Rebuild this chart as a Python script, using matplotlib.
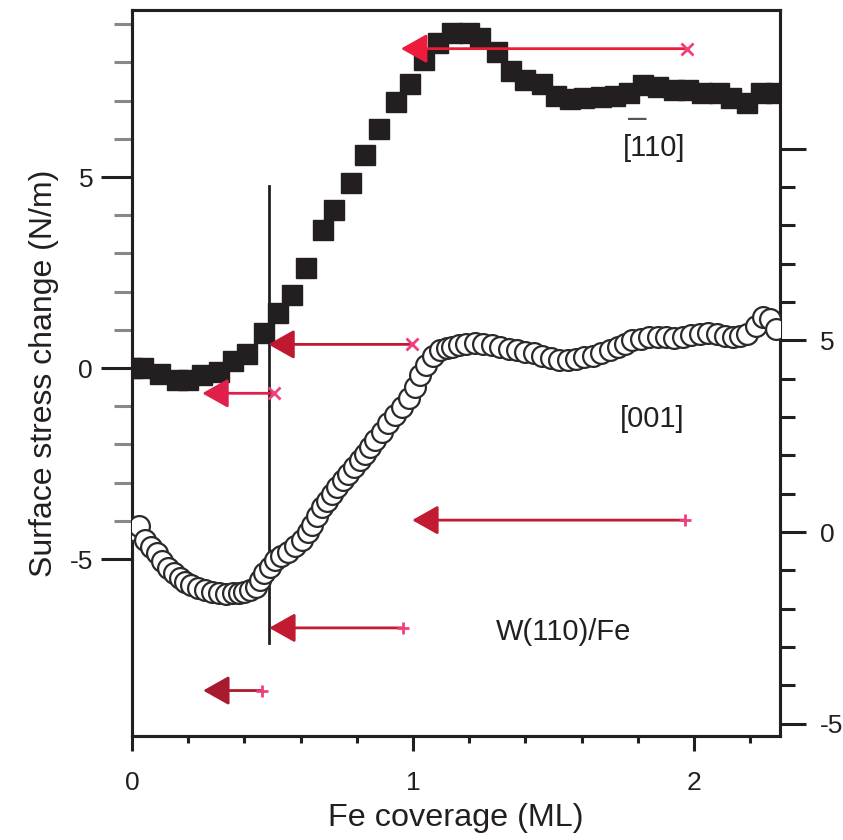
import matplotlib
matplotlib.use("Agg")
import matplotlib.pyplot as plt
from matplotlib.ticker import FixedLocator

plt.rcParams['font.family'] = ['Liberation Sans', 'DejaVu Sans']
plt.rcParams['axes.unicode_minus'] = False

# [110] filled squares, left axis (N/m)
sq_x = [0.0, 0.04, 0.10, 0.16, 0.20, 0.25, 0.31, 0.36, 0.41, 0.47, 0.52, 0.57,
        0.62, 0.68, 0.72, 0.78, 0.83, 0.88, 0.94, 0.99, 1.04, 1.09, 1.14, 1.20,
        1.24, 1.30, 1.35, 1.40, 1.46, 1.51, 1.56, 1.61, 1.67, 1.72, 1.77, 1.82,
        1.87, 1.93, 1.98, 2.03, 2.09, 2.13, 2.19, 2.24, 2.29]
sq_y = [0.0, 0.0, -0.16, -0.32, -0.32, -0.19, -0.09, 0.19, 0.38, 0.92, 1.44, 1.90,
        2.61, 3.62, 4.15, 4.85, 5.58, 6.26, 6.96, 7.43, 8.07, 8.52, 8.78, 8.78,
        8.64, 8.28, 7.77, 7.54, 7.43, 7.11, 7.04, 7.07, 7.10, 7.11, 7.20, 7.42,
        7.35, 7.27, 7.27, 7.20, 7.20, 7.07, 6.95, 7.20, 7.20]

# [001] open circles, right axis (N/m)
ci_x = [0.00, 0.025, 0.046, 0.068, 0.089, 0.108, 0.128, 0.15, 0.17, 0.19, 0.21,
        0.235, 0.26, 0.285, 0.31, 0.335, 0.36, 0.38, 0.40, 0.42, 0.44, 0.455,
        0.47, 0.49, 0.51, 0.53, 0.555, 0.58, 0.605, 0.625, 0.64, 0.66, 0.676,
        0.693, 0.71, 0.73, 0.75, 0.77, 0.79, 0.81, 0.83, 0.848, 0.865, 0.888,
        0.91, 0.935, 0.96, 0.985, 1.007, 1.025, 1.045, 1.07, 1.096, 1.12, 1.14,
        1.165, 1.19, 1.22, 1.25, 1.28, 1.31, 1.34, 1.37, 1.40, 1.43, 1.46, 1.49,
        1.52, 1.55, 1.58, 1.61, 1.64, 1.67, 1.70, 1.73, 1.755, 1.78, 1.81, 1.84,
        1.87, 1.90, 1.93, 1.96, 1.99, 2.02, 2.05, 2.08, 2.11, 2.14, 2.165, 2.19,
        2.22, 2.245, 2.27, 2.29]
ci_y = [0.05, 0.15, -0.21, -0.40, -0.55, -0.75, -0.94, -1.08, -1.20, -1.30, -1.38,
        -1.45, -1.51, -1.56, -1.60, -1.61, -1.60, -1.58, -1.56, -1.50, -1.43, -1.25,
        -1.07, -0.90, -0.73, -0.62, -0.52, -0.37, -0.21, 0.0, 0.18, 0.42, 0.65,
        0.82, 1.00, 1.18, 1.35, 1.52, 1.70, 1.88, 2.05, 2.22, 2.40, 2.62,
        2.84, 3.05, 3.26, 3.50, 3.78, 4.10, 4.35, 4.60, 4.74, 4.80, 4.82,
        4.88, 4.92, 4.93, 4.92, 4.87, 4.82, 4.78, 4.74, 4.70, 4.66, 4.60, 4.53,
        4.50, 4.48, 4.52, 4.56, 4.60, 4.66, 4.75, 4.82, 4.92, 5.00, 5.05, 5.08,
        5.08, 5.08, 5.06, 5.08, 5.14, 5.18, 5.20, 5.18, 5.12, 5.08, 5.12, 5.18,
        5.38, 5.60, 5.55, 5.30]

# arrows (left axis units): tail x, tip x, y, tail marker, colour
arr_tail = [1.975, 0.996, 0.505, 1.968, 0.966, 0.464]
arr_tip = [0.957, 0.485, 0.250, 0.997, 0.488, 0.253]
arr_y = [8.36, 0.62, -0.66, -3.98, -6.80, -8.44]
arr_mark = ['x', 'x', 'x', '+', '+', '+']
arr_col = ['#ec1c3a', '#c0182f', '#e0204a', '#c21a30', '#c21a30', '#a81a2e']

# vertical line at monolayer-ish coverage
vline_x = 0.488
vline_y = (-7.19, 4.77)

ink = '#231f20'

fig = plt.figure(figsize=(8.43, 8.40), dpi=100)
ax = fig.add_axes([0.1566, 0.1238, 0.7687, 0.8642])
ax2 = ax.twinx()

ax.plot(sq_x, sq_y, 's', color=ink, ms=15, mec=ink, zorder=3)
ax2.plot(ci_x, ci_y, 'o', mfc='white', mec='#2a2a2a', mew=1.6, ms=15, zorder=3)

ax.plot([vline_x, vline_x], vline_y, color=ink, lw=2)

for i in range(len(arr_tail)):
    ax.annotate('', xy=(arr_tip[i], arr_y[i]), xytext=(arr_tail[i], arr_y[i]),
                arrowprops=dict(arrowstyle='-|>,head_length=0.8,head_width=0.45',
                                mutation_scale=20, color=arr_col[i], lw=2,
                                shrinkA=0, shrinkB=0), zorder=4)
    ax.plot(arr_tail[i], arr_y[i], arr_mark[i], color='#f0407a', ms=9, mew=2, zorder=4)

ax.set_xlim(0, 2.306)
ax.set_ylim(-9.63, 9.37)
ax2.set_ylim(-5.32, 13.62)

for a in (ax, ax2):
    for s in a.spines.values():
        s.set_linewidth(2.2)
        s.set_color(ink)

ax.set_xticks([0, 1, 2])
ax.xaxis.set_minor_locator(FixedLocator([0.2, 0.4, 0.6, 0.8, 1.2, 1.4, 1.6, 1.8, 2.2]))
ax.set_yticks([-5, 0, 5])
ax.yaxis.set_minor_locator(FixedLocator([-4, -3, -2, -1, 1, 2, 3, 4, 6, 7, 8, 9]))
ax2.set_yticks([-5, 0, 5, 10])
ax2.set_yticklabels(['-5', '0', '5', ''])
ax2.yaxis.set_minor_locator(FixedLocator([-4, -3, -2, -1, 1, 2, 3, 4, 6, 7, 8, 9]))

ax.tick_params(axis='x', which='major', direction='out', length=11, width=2.2,
               pad=14, labelsize=19, colors=ink)
ax.tick_params(axis='x', which='minor', direction='out', length=5, width=2.2, colors=ink)
ax.tick_params(axis='y', which='major', direction='out', length=22, width=2.2,
               pad=6, labelsize=19, colors=ink)
ax.tick_params(axis='y', which='minor', direction='out', length=13, width=2.2, colors='#888888')
ax2.tick_params(axis='y', which='major', direction='out', length=19, width=2.2,
                pad=10, labelsize=19, colors=ink)
ax2.tick_params(axis='y', which='minor', direction='out', length=11, width=2.2, colors=ink)

ax.set_xlabel('Fe coverage (ML)', fontsize=23.3, color=ink, labelpad=6)
ax.set_ylabel('Surface stress change (N/m)', fontsize=23, color=ink, labelpad=8)

ax.text(1.858, 5.76, '[110]', fontsize=21, color=ink, ha='center', va='center')
ax.text(1.797, 6.52, '\u2013', fontsize=24, color='#555555', ha='center', va='center')
ax.text(1.85, -1.33, '[001]', fontsize=21, color=ink, ha='center', va='center')
ax.text(1.534, -6.9, 'W(110)/Fe', fontsize=21, color=ink, ha='center', va='center')

fig.savefig('out.png', dpi=100)
